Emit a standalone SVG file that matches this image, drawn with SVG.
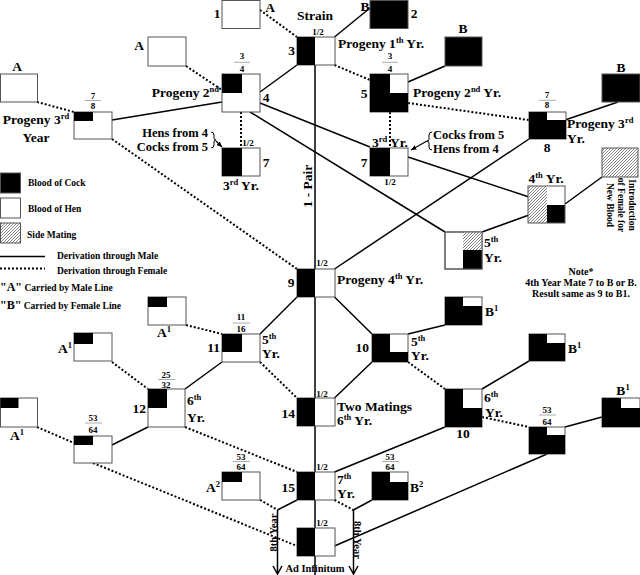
<svg xmlns="http://www.w3.org/2000/svg" width="640" height="575" viewBox="0 0 640 575">
<defs>
<pattern id="hatch" width="3" height="3" patternUnits="userSpaceOnUse">
<rect width="3" height="3" fill="#fff"/>
<path d="M-1,1 L1,-1 M0,3 L3,0 M2,4 L4,2" stroke="#666" stroke-width="0.8"/>
</pattern>
<marker id="ah" viewBox="0 0 10 10" refX="9" refY="5" markerWidth="5" markerHeight="5" orient="auto"><path d="M0,1 L9,5 L0,9 z" fill="#000"/></marker>
</defs>
<style>
text{font-family:"Liberation Serif","Times New Roman",serif;font-weight:bold;fill:#000}
.l{font-size:13.5px}
.hc{font-size:12.5px}
.sm{font-size:9px}
.fr{font-size:9px}
.lg{font-size:9.5px}
.nt{font-size:10px}
.it{font-size:9.5px}
.sup{font-size:8.5px}
.box{fill:#fff;stroke:#555;stroke-width:1}
.bb{fill:#000;stroke:#555;stroke-width:1}
.bk{fill:#000}
.ht{fill:url(#hatch)}
.ol{fill:none;stroke:#555;stroke-width:1}
.m{stroke:#000;stroke-width:1.5;fill:none}
.f{stroke:#000;stroke-width:2;stroke-dasharray:2 2;fill:none}
.fl{stroke:#888;stroke-width:0.7}
.c{text-anchor:middle}
.e{text-anchor:end}
</style>
<rect width="640" height="575" fill="#fff"/>

<g id="connectors">
<path class="m" d="M315,37 L315,575"/>
<path class="m" d="M334.5,37 L370,8"/>
<path class="m" d="M260,92 L297,65"/>
<path class="m" d="M408,82 L445,66"/>
<path class="m" d="M565,120 L618,102"/>
<path class="m" d="M222,102 L112,120"/>
<path class="m" d="M250,112 L445,232"/>
<path class="m" d="M260,103 L370,147"/>
<path class="m" d="M408,157 L529,197"/>
<path class="m" d="M529,139 L334.5,269"/>
<path class="m" d="M529,215 L482,232"/>
<path class="m" d="M565,204 L602,177"/>
<path class="m" d="M297,297 L260,334"/>
<path class="m" d="M334.5,297 L372,334"/>
<path class="m" d="M408,334 L445,325"/>
<path class="m" d="M222,362 L185,389"/>
<path class="m" d="M372,362 L334.5,398"/>
<path class="m" d="M482,389 L529,361"/>
<path class="m" d="M148,427 L112,445"/>
<path class="m" d="M445,427 L334.5,472"/>
<path class="m" d="M565,427 L602,417"/>
<path class="m" d="M547,454 L334.5,546"/>
<path class="m" d="M277.5,510 L297,500"/>
<path class="m" d="M353.5,510 L372,500"/>
<path class="m" d="M277.5,510 L277.5,574"/>
<path class="m" d="M353.5,510 L353.5,574"/>
<path class="m" d="M273,566 L277.5,574 L282,566"/>
<path class="m" d="M349,566 L353.5,574 L358,566"/>

<path class="f" d="M260,10 L297,37"/>
<path class="f" d="M334.5,65 L370,80"/>
<path class="f" d="M408,103 L529,120"/>
<path class="f" d="M186,66 L222,90"/>
<path class="f" d="M241,112 L241,148"/>
<path class="f" d="M390,112 L390,148"/>
<path class="f" d="M37,102 L74,112"/>
<path class="f" d="M112,139 L297,269"/>
<path class="f" d="M186,325 L222,334"/>
<path class="f" d="M112,362 L148,389"/>
<path class="f" d="M260,362 L297,398"/>
<path class="f" d="M408,362 L445,389"/>
<path class="f" d="M37,427 L74,443"/>
<path class="f" d="M185,427 L297,472"/>
<path class="f" d="M482,417 L529,427"/>
<path class="f" d="M93,463 L297,546"/>
<path class="f" d="M260,500 L277.5,510"/>
<path class="f" d="M334.5,500 L353.5,510"/>

<path d="M216,141 L222,147" stroke="#000" stroke-width="1.2" marker-end="url(#ah)"/>
<path d="M427,141 L411,150" stroke="#000" stroke-width="1.2" marker-end="url(#ah)"/>
<path d="M211,132 q3,0 3,3 v3 q0,2 2,2 q-2,0 -2,2 v3 q0,3 -3,3" fill="none" stroke="#000" stroke-width="1"/>
<path d="M432,132 q-3,0 -3,3 v4 q0,2 -2,2 q2,0 2,2 v4 q0,3 3,3" fill="none" stroke="#000" stroke-width="1"/>
</g>

<g id="legend">
<rect class="bb" x="0.5" y="173" width="20" height="20"/>
<text class="lg" x="28" y="186">Blood of Cock</text>
<rect class="box" x="0.5" y="198" width="20" height="20"/>
<text class="lg" x="28" y="212">Blood of Hen</text>
<rect class="ht" x="0.5" y="223" width="20" height="20"/>
<rect class="ol" x="0.5" y="223" width="20" height="20"/>
<text class="lg" x="27" y="238">Side Mating</text>
<path class="m" d="M0,256.5 L45,256.5"/>
<text class="lg" x="57" y="259">Derivation through Male</text>
<path class="f" d="M0,268.5 L45,268.5"/>
<text class="lg" x="57" y="274">Derivation through Female</text>
<text class="lg" x="0" y="291"><tspan font-size="12">"A"</tspan> Carried by Male Line</text>
<text class="lg" x="0" y="309"><tspan font-size="12">"B"</tspan> Carried by Female Line</text>
</g>

<g id="n1">
<rect class="box" x="222" y="0.5" width="38" height="28"/>
<text class="l c" x="217" y="18">1</text>
<text class="l c" x="270" y="12">A</text>
</g>
<g id="n2">
<rect class="bb" x="370" y="0.5" width="38" height="28"/>
<text class="l c" x="414" y="18">2</text>
<text class="l c" x="365" y="11">B</text>
</g>
<g id="n3">
<rect class="box" x="297" y="37" width="38" height="28"/>
<rect class="bk" x="297" y="37" width="18" height="28"/>
<text class="l c" x="291.5" y="55">3</text>
<text class="sm c" x="318" y="35">1/2</text>
<text class="l c" x="315" y="20">Strain</text>
<text class="l" x="338" y="47.5">Progeny 1<tspan class="sup" dy="-5">th</tspan><tspan dy="5"> Yr.</tspan></text>
</g>
<g id="n4">
<rect class="box" x="222" y="74" width="38" height="38"/>
<rect class="bk" x="222" y="74" width="20" height="19"/>
<text class="l c" x="266" y="101.5">4</text>
<text class="fr c" x="242" y="59">3</text>
<path class="fl" d="M234,62.3 H250"/>
<text class="fr c" x="242" y="72">4</text>
<text class="l e" x="219" y="96.5">Progeny 2<tspan class="sup" dy="-5">nd</tspan></text>
</g>
<g id="nA1">
<rect class="box" x="148" y="37" width="38" height="29"/>
<text class="l c" x="139" y="50">A</text>
</g>
<g id="n5">
<rect class="box" x="370" y="74" width="38" height="38"/>
<path class="bk" d="M370,74 h20 v19 h18 v19 h-38 z"/>
<text class="l c" x="364" y="98">5</text>
<text class="fr c" x="390" y="59">3</text>
<path class="fl" d="M382,62.3 H398"/>
<text class="fr c" x="390" y="72">4</text>
<text class="l" x="413" y="97">Progeny 2<tspan class="sup" dy="-5">nd</tspan><tspan dy="5"> Yr.</tspan></text>
</g>
<g id="nB1">
<rect class="bb" x="445" y="37" width="37" height="29"/>
<text class="l c" x="463" y="33">B</text>
</g>
<g id="n7L">
<rect class="box" x="222" y="148" width="38" height="28"/>
<rect class="bk" x="222" y="148" width="20" height="28"/>
<text class="l c" x="266" y="166.7">7</text>
<text class="sm c" x="248" y="146">1/2</text>
<text class="l c" x="241" y="190">3<tspan class="sup" dy="-5">rd</tspan><tspan dy="5"> Yr.</tspan></text>
<text class="hc e" x="208" y="137">Hens from 4<tspan x="208" dy="14">Cocks from 5</tspan></text>
</g>
<g id="n7R">
<rect class="box" x="370" y="148" width="38" height="28"/>
<rect class="bk" x="370" y="148" width="20" height="28"/>
<text class="l c" x="364" y="166.7">7</text>
<text class="sm c" x="390" y="185">1/2</text>
<text class="l c" x="390" y="146.5">3<tspan class="sup" dy="-5">rd</tspan><tspan dy="5"> Yr.</tspan></text>
<text class="hc" x="433" y="139">Cocks from 5<tspan x="433" dy="14">Hens from 4</tspan></text>
</g>
<g id="n8">
<rect class="box" x="529" y="112" width="37" height="27"/>
<path class="bk" d="M529,112 h18 v8 h19 v19 h-37 z"/>
<text class="l c" x="547" y="151.7">8</text>
<text class="fr c" x="547" y="98">7</text>
<path class="fl" d="M539,100.3 H556"/>
<text class="fr c" x="547" y="107.5">8</text>
<text class="l" x="567" y="128" font-size="13">Progeny 3<tspan class="sup" dy="-5">rd</tspan><tspan x="567" dy="19.5">Yr.</tspan></text>
</g>
<g id="nB2">
<rect class="bb" x="602" y="74" width="38" height="28"/>
<text class="l c" x="621" y="72">B</text>
</g>
<g id="n78L">
<rect class="box" x="74" y="112" width="38" height="27"/>
<rect class="bk" x="74" y="112" width="19" height="9"/>
<text class="fr c" x="93" y="99">7</text>
<path class="fl" d="M85,100.5 H101"/>
<text class="fr c" x="93" y="108.5">8</text>
</g>
<g id="nA2">
<rect class="box" x="0.5" y="74" width="37" height="28"/>
<text class="l c" x="17" y="71">A</text>
<text class="l c" x="36" y="124">Progeny 3<tspan class="sup" dy="-5">rd</tspan><tspan x="36" dy="22.5">Year</tspan></text>
</g>
<g id="n4th">
<rect class="ht" x="528" y="186" width="19" height="37"/>
<rect class="bk" x="547" y="205" width="18" height="18"/>
<rect class="ol" x="528" y="186" width="37" height="37"/>
<text class="l c" x="546" y="183">4<tspan class="sup" dy="-5">th</tspan><tspan dy="5"> Yr.</tspan></text>
</g>
<g id="nIntro">
<rect class="ht" x="602" y="148" width="36" height="29"/>
<rect class="ol" x="602" y="148" width="36" height="29"/>
<text class="it c" transform="translate(628.5,205) rotate(90)">Introduction<tspan x="0" dy="11">of Female for</tspan><tspan x="0" dy="10.5">New Blood</tspan></text>
</g>
<g id="n5th">
<rect class="box" x="445" y="232" width="37" height="37"/>
<rect class="ht" x="463" y="232" width="19" height="18"/>
<rect class="bk" x="463" y="250" width="19" height="19"/>
<rect class="ol" x="445" y="232" width="37" height="37"/>
<text class="l" x="484" y="246.7">5<tspan class="sup" dy="-5">th</tspan><tspan x="484" dy="20">Yr.</tspan></text>
</g>
<g id="note">
<text class="nt c" x="581" y="275">Note*<tspan x="581" dy="11">4th Year Mate 7 to B or B.</tspan><tspan x="581" dy="11">Result same as 9 to B1.</tspan></text>
</g>
<g id="n9">
<rect class="box" x="297" y="269" width="38" height="28"/>
<rect class="bk" x="297" y="269" width="18" height="28"/>
<text class="l c" x="291" y="286.7">9</text>
<text class="sm c" x="322" y="266">1/2</text>
<text class="l" x="337" y="284">Progeny 4<tspan class="sup" dy="-5">th</tspan><tspan dy="5"> Yr.</tspan></text>
<text class="l c" transform="translate(311.5,186) rotate(-90)">1 - Pair</text>
</g>
<g id="n11">
<rect class="box" x="222" y="334" width="38" height="28"/>
<rect class="bk" x="222" y="334" width="20" height="18"/>
<text class="l e" x="220" y="351.7">11</text>
<text class="fr c" x="241" y="320">11</text>
<path class="fl" d="M233,323 H250"/>
<text class="fr c" x="241" y="332">16</text>
<text class="l" x="262" y="343.5">5<tspan class="sup" dy="-5">th</tspan><tspan x="262" dy="19.5">Yr.</tspan></text>
</g>
<g id="nA1a">
<rect class="box" x="148" y="297" width="38" height="28"/>
<rect class="bk" x="148" y="297" width="19" height="10"/>
<text class="l c" x="164" y="337">A<tspan class="sup" dy="-5">1</tspan></text>
</g>
<g id="n10a">
<rect class="box" x="372" y="334" width="36" height="28"/>
<path class="bk" d="M372,334 h18 v18 h18 v10 h-36 z"/>
<text class="l e" x="369" y="351.7">10</text>
<text class="l" x="411" y="346">5<tspan class="sup" dy="-5">th</tspan><tspan x="411" dy="18.5">Yr.</tspan></text>
</g>
<g id="nB1a">
<rect class="box" x="445" y="297" width="37" height="28"/>
<path class="bk" d="M445,297 h18 v9 h19 v19 h-37 z"/>
<text class="l" x="485" y="316">B<tspan class="sup" dy="-5">1</tspan></text>
</g>
<g id="n12">
<rect class="box" x="148" y="389" width="37" height="38"/>
<rect class="bk" x="148" y="389" width="19" height="19"/>
<text class="l e" x="146" y="413">12</text>
<text class="fr c" x="166" y="377.5">25</text>
<path class="fl" d="M158,379.5 H175"/>
<text class="fr c" x="166" y="388">32</text>
<text class="l" x="187" y="405">6<tspan class="sup" dy="-5">th</tspan><tspan x="187" dy="21.5">Yr.</tspan></text>
</g>
<g id="nA1b">
<rect class="box" x="74" y="333" width="38" height="28"/>
<rect class="bk" x="74" y="333" width="19" height="11"/>
<text class="l e" x="72" y="353">A<tspan class="sup" dy="-5">1</tspan></text>
</g>
<g id="n14">
<rect class="box" x="297" y="398" width="38" height="28"/>
<rect class="bk" x="297" y="398" width="18" height="28"/>
<text class="l e" x="295" y="418">14</text>
<text class="sm c" x="322" y="396.5">1/2</text>
<text class="l" x="337" y="410.5">Two Matings<tspan x="337" dy="14.5">6</tspan><tspan class="sup" dy="-5">th</tspan><tspan dy="5"> Yr.</tspan></text>
</g>
<g id="n10b">
<rect class="box" x="445" y="389" width="37" height="38"/>
<path class="bk" d="M445,389 h18 v19 h19 v19 h-37 z"/>
<text class="l c" x="463" y="438">10</text>
<text class="l" x="484" y="401.7">6<tspan class="sup" dy="-5">th</tspan><tspan x="485" dy="20">Yr.</tspan></text>
</g>
<g id="nB1b">
<rect class="box" x="529" y="334" width="36" height="27"/>
<path class="bk" d="M529,334 h18 v9 h18 v18 h-36 z"/>
<text class="l" x="568" y="353">B<tspan class="sup" dy="-5">1</tspan></text>
</g>
<g id="n5364R">
<rect class="box" x="529" y="427" width="36" height="27"/>
<path class="bk" d="M529,427 h18 v8 h18 v19 h-36 z"/>
<text class="fr c" x="547" y="413">53</text>
<path class="fl" d="M539,415 H556"/>
<text class="fr c" x="547" y="425">64</text>
</g>
<g id="nB1c">
<rect class="box" x="602" y="398" width="38" height="29"/>
<path class="bk" d="M602,398 h19 v10 h19 v19 h-38 z"/>
<text class="l c" x="623" y="395">B<tspan class="sup" dy="-5">1</tspan></text>
</g>
<g id="n5364L">
<rect class="box" x="74" y="436" width="38" height="27"/>
<rect class="bk" x="74" y="436" width="19" height="9"/>
<text class="fr c" x="93" y="421">53</text>
<path class="fl" d="M85,423 H102"/>
<text class="fr c" x="93" y="433">64</text>
</g>
<g id="nA1c">
<rect class="box" x="0.5" y="398" width="37" height="29"/>
<rect class="bk" x="0.5" y="398" width="18" height="10"/>
<text class="l c" x="17" y="440">A<tspan class="sup" dy="-5">1</tspan></text>
</g>
<g id="n15">
<rect class="box" x="297" y="472" width="38" height="28"/>
<rect class="bk" x="297" y="472" width="18" height="28"/>
<text class="l e" x="295" y="491.7">15</text>
<text class="sm c" x="322" y="470">1/2</text>
<text class="l" x="337" y="483.5">7<tspan class="sup" dy="-5">th</tspan><tspan x="337" dy="19.5">Yr.</tspan></text>
</g>
<g id="nA2b">
<rect class="box" x="222" y="472" width="38" height="28"/>
<rect class="bk" x="222" y="472" width="20" height="10"/>
<text class="fr c" x="241" y="460">53</text>
<path class="fl" d="M233,461.5 H250"/>
<text class="fr c" x="241" y="470">64</text>
<text class="l e" x="220" y="492">A<tspan class="sup" dy="-5">2</tspan></text>
</g>
<g id="nB2b">
<rect class="box" x="372" y="472" width="36" height="28"/>
<path class="bk" d="M372,472 h18 v10 h18 v18 h-36 z"/>
<text class="fr c" x="390" y="460">53</text>
<path class="fl" d="M382,461.5 H399"/>
<text class="fr c" x="390" y="470">64</text>
<text class="l" x="410" y="492">B<tspan class="sup" dy="-5">2</tspan></text>
</g>
<g id="n16">
<rect class="box" x="297" y="528" width="38" height="28"/>
<rect class="bk" x="297" y="528" width="18" height="28"/>
<text class="sm c" x="322" y="526">1/2</text>
</g>
<g id="bottom-labels">
<text class="c" font-size="10.5" x="315" y="572">Ad Infinitum</text>
<text class="c" font-size="10.5" transform="translate(276.5,532.5) rotate(-90)">8th Year</text>
<text class="c" font-size="10.5" transform="translate(354,540) rotate(90)">8th Year</text>
</g>
</svg>
